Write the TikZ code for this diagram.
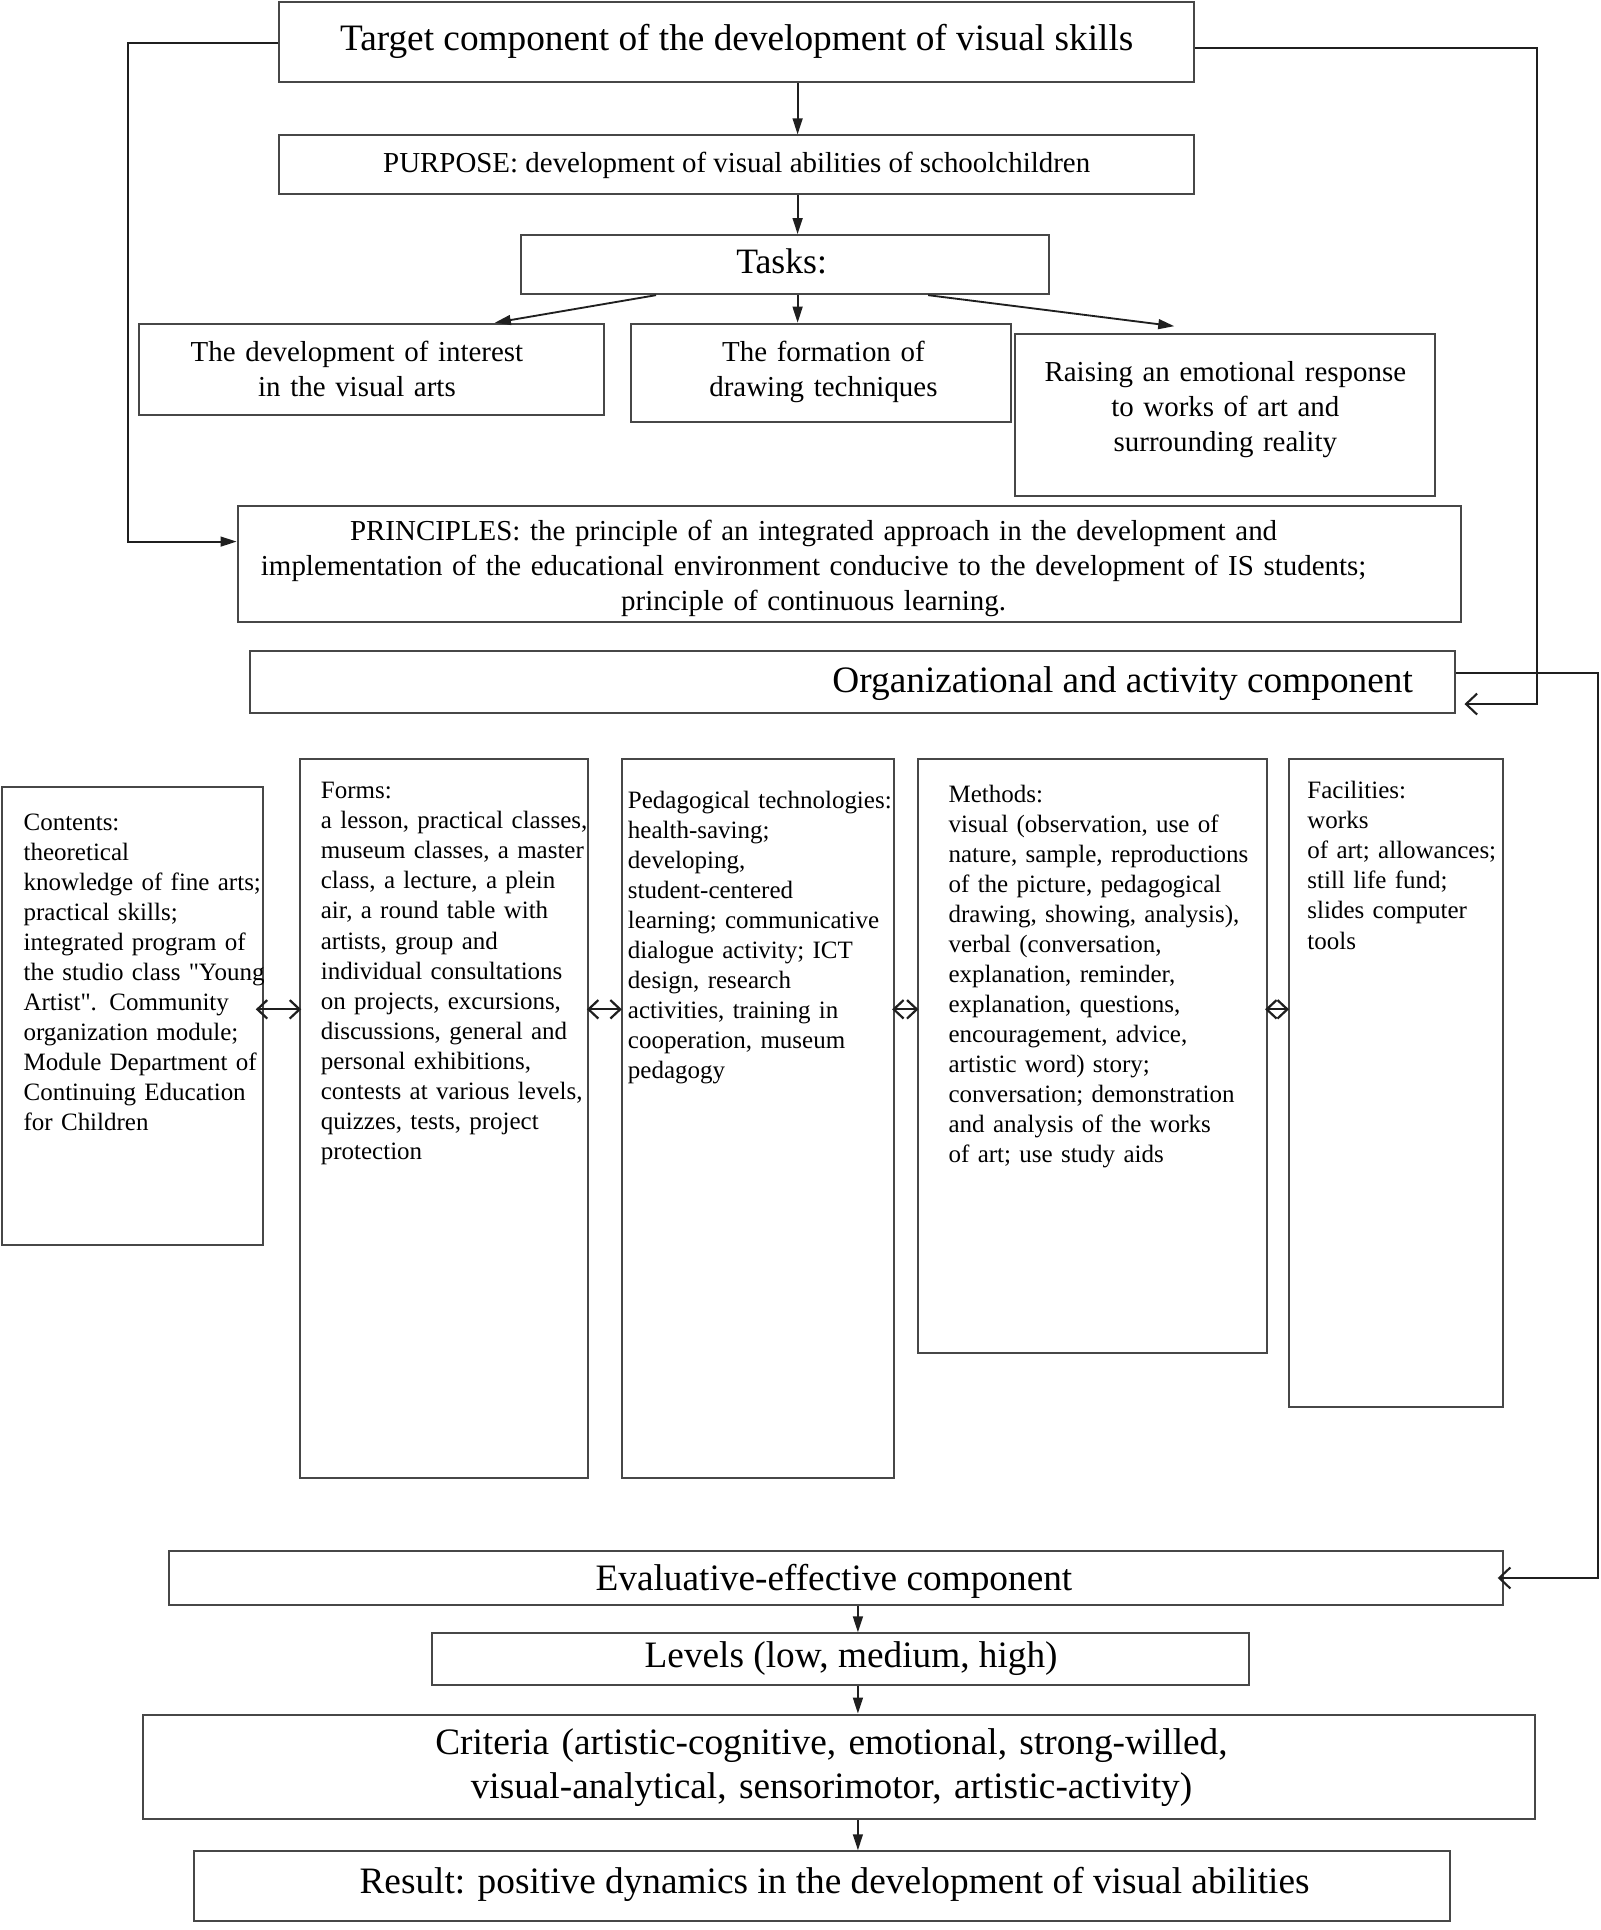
\documentclass[tikz,border=0pt]{standalone}
\usepackage{fontspec}
\setmainfont{Liberation Serif}[Ligatures=TeXOff]
\usetikzlibrary{arrows.meta,calc}
\tikzset{
  box/.style={draw=black!72, line width=1.6pt, rectangle, inner sep=0pt},
  conn/.style={draw=black!88, line width=1.5pt},
  tri/.style={conn, -{Triangle[length=13pt,width=8pt]}},
  barb/.style={conn, -{Straight Barb[length=9pt,width=17pt,line width=1.7pt]}},
  dbl/.style={conn, line width=1.8pt, {Straight Barb[length=8pt,width=15pt]}-{Straight Barb[length=8pt,width=15pt]}},
  big/.style={font=\fontsize{30.3}{36}\selectfont, inner sep=0pt},
  mid/.style={font=\fontsize{23.5}{28.3}\selectfont, inner sep=0pt},
  small/.style={font=\fontsize{20.3}{24.4}\selectfont, inner sep=0pt},
  ctext/.style={anchor=base, text width=1000pt, align=center},
  ltext/.style={small, anchor=base west, text width=300pt, align=left},
}
\begin{document}
\begin{tikzpicture}[x=1pt,y=-1pt]
\fill[white] (0,0) rectangle (1300,1568);
\useasboundingbox (0,0) rectangle (1300,1568);

% ---- boxes ----
\node[box, minimum width=743pt, minimum height=65pt] (top) at (598.5,34.5) {};
\node[box, minimum width=743pt, minimum height=48pt] (purpose) at (598.5,134) {};
\node[box, minimum width=429pt, minimum height=48pt] (tasks) at (637.5,215) {};
\node[box, minimum width=378pt, minimum height=74pt] (t1) at (302,300) {};
\node[box, minimum width=308pt, minimum height=80pt] (t2) at (667,303) {};
\node[box, minimum width=341pt, minimum height=132pt] (t3) at (995.5,337) {};
\node[box, minimum width=994pt, minimum height=94pt] (principles) at (690,458) {};
\node[box, minimum width=979pt, minimum height=50pt] (org) at (692.5,554) {};
\node[box, minimum width=212pt, minimum height=372pt] (contents) at (108,825.5) {};
\node[box, minimum width=234.5pt, minimum height=584pt] (forms) at (360.75,909) {};
\node[box, minimum width=221pt, minimum height=584pt] (ped) at (615.5,909) {};
\node[box, minimum width=283pt, minimum height=482pt] (methods) at (887.5,858) {};
\node[box, minimum width=174pt, minimum height=526pt] (fac) at (1134,880) {};
\node[box, minimum width=1084pt, minimum height=44pt] (eval) at (679,1282) {};
\node[box, minimum width=664pt, minimum height=42pt] (levels) at (683,1348) {};
\node[box, minimum width=1131pt, minimum height=85pt] (criteria) at (681.5,1435.5) {};
\node[box, minimum width=1020pt, minimum height=57pt] (result) at (668,1532.5) {};

% ---- texts ----
\node[big, anchor=base] (ttop) at (598.5,41) {Target component of the development of visual skills};
\node[mid, anchor=base] (tpurpose) at (598.5,140) {PURPOSE: development of visual abilities of schoolchildren};
\node[font=\fontsize{29}{34}\selectfont, inner sep=0pt, anchor=base] (ttasks) at (635,222.5) {Tasks:};
\node[mid, ctext] (tt1) at (290,294) {The development of interest\\in the visual arts};
\node[mid, ctext] (tt2) at (669,294) {The formation of\\drawing techniques};
\node[mid, ctext] (tt3) at (995.5,310) {Raising an emotional response\\to works of art and\\surrounding reality};
\node[mid, ctext] (tprinciples) at (661,439) {PRINCIPLES: the principle of an integrated approach in the development and\\implementation of the educational environment conducive to the development of IS students;\\principle of continuous learning.};
\node[big, anchor=base east] (torg) at (1148,563) {Organizational and activity component};

\node[ltext] (tcontents) at (19,674.5) {Contents:\\theoretical\\knowledge of fine arts;\\practical skills;\\integrated program of\\the studio class "Young\\Artist". Community\\organization module;\\Module Department of\\Continuing Education\\for Children};
\node[ltext] (tforms) at (260.5,649) {Forms:\\a lesson, practical classes,\\museum classes, a master\\class, a lecture, a plein\\air, a round table with\\artists, group and\\individual consultations\\on projects, excursions,\\discussions, general and\\personal exhibitions,\\contests at various levels,\\quizzes, tests, project\\protection};
\node[ltext] (tped) at (510,656.5) {Pedagogical technologies:\\health-saving;\\developing,\\student-centered\\learning; communicative\\dialogue activity; ICT\\design, research\\activities, training in\\cooperation, museum\\pedagogy};
\node[ltext] (tmethods) at (770.5,652) {Methods:\\visual (observation, use of\\nature, sample, reproductions\\of the picture, pedagogical\\drawing, showing, analysis),\\verbal (conversation,\\explanation, reminder,\\explanation, questions,\\encouragement, advice,\\artistic word) story;\\conversation; demonstration\\and analysis of the works\\of art; use study aids};
\node[ltext] (tfac) at (1062,649) {Facilities:\\works\\of art; allowances;\\still life fund;\\slides computer\\tools};

\node[big, anchor=base] (teval) at (677.5,1292) {Evaluative-effective component};
\node[big, anchor=base] (tlevels) at (691.5,1355) {Levels (low, medium, high)};
\node[big, ctext] (tcriteria) at (675.5,1425) {Criteria (artistic-cognitive, emotional, strong-willed,\\visual-analytical, sensorimotor, artistic-activity)};
\node[big, anchor=base] (tresult) at (678,1538) {Result: positive dynamics in the development of visual abilities};

% ---- connectors ----
\coordinate (ax) at (648,0);
\draw[tri] (top.south -| ax) -- (purpose.north -| ax);
\draw[tri] (purpose.south -| ax) -- (tasks.north -| ax);
\draw[tri] (tasks.south -| ax) -- (t2.north -| ax);
\coordinate (d1s) at (533,0);
\coordinate (d1e) at (402,0);
\draw[tri] (tasks.south -| d1s) -- (t1.north -| d1e);
\coordinate (d3s) at (754,0);
\coordinate (d3e) at (954,265);
\draw[tri] (tasks.south -| d3s) -- (d3e);

\coordinate (lA) at (104,35);
\coordinate (lB) at (104,440);
\draw[tri] (top.west |- lA) -- (lA) -- (lB) -- (principles.west |- lB);

\coordinate (rA) at (1249,39);
\coordinate (rB) at (1249,572);
\draw[barb] (top.east |- rA) -- (rA) -- (rB) -- ($(org.east |- rB)+(7,0)$);

\coordinate (sA) at (1298,547);
\coordinate (sB) at (1298,1282);
\draw[barb] (org.east |- sA) -- (sA) -- (sB) -- ($(eval.east |- sB)+(-5,0)$);

\coordinate (bx) at (697,0);
\draw[tri] (eval.south -| bx) -- (levels.north -| bx);
\draw[tri] (levels.south -| bx) -- (criteria.north -| bx);
\draw[tri] (criteria.south -| bx) -- (result.north -| bx);

\coordinate (cy) at (0,820);
\draw[dbl] ($(contents.east |- cy)+(-7,0)$) -- ($(forms.west |- cy)+(2,0)$);
\draw[dbl] ($(forms.east |- cy)+(-2,0)$) -- ($(ped.west |- cy)+(1,0)$);
\draw[dbl] ($(ped.east |- cy)+(-2,0)$) -- ($(methods.west |- cy)+(1,0)$);
\draw[dbl] ($(methods.east |- cy)+(-2,0)$) -- ($(fac.west |- cy)+(1,0)$);
\end{tikzpicture}
\end{document}
